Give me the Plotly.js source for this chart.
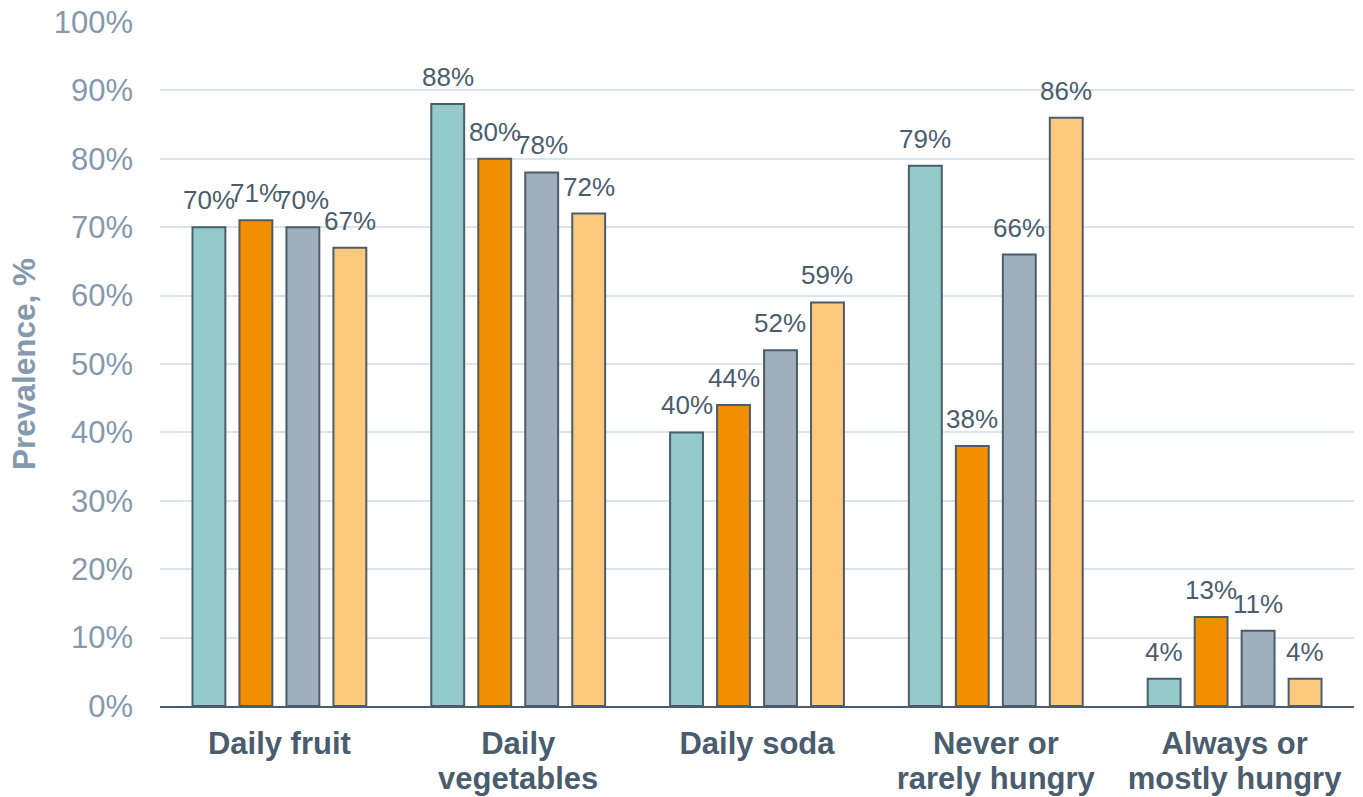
<!DOCTYPE html>
<html>
<head>
<meta charset="utf-8">
<script src="https://cdn.plot.ly/plotly-3.0.1.min.js"></script>
<style>
  html, body { margin: 0; padding: 0; background: #ffffff; }
  #chart { width: 1363px; height: 797px; }
</style>
</head>
<body>
<div id="chart"></div>
<script>
// Categories shown along the x axis (line breaks marked with <br>)
const categories = [
  'Daily fruit',
  'Daily<br>vegetables',
  'Daily soda',
  'Never or<br>rarely hungry',
  'Always or<br>mostly hungry'
];

// Prevalence (%) for each of the four groups
const groupA = [70, 88, 40, 79, 4];
const groupB = [71, 80, 44, 38, 13];
const groupC = [70, 78, 52, 66, 11];
const groupD = [67, 72, 59, 86, 4];

const seriesValues = [groupA, groupB, groupC, groupD];
const seriesNames = ['Group A', 'Group B', 'Group C', 'Group D'];
const seriesColors = ['#95CACA', '#F28F00', '#A1AEBB', '#FCC97C'];

const yTickValues = [0, 10, 20, 30, 40, 50, 60, 70, 80, 90, 100];
const yTickLabels = yTickValues.map(v => v + '%');

// Category labels split into their first and second lines
const firstLines = categories.map(c => c.split('<br>')[0]);
const secondLines = categories.map(c => c.split('<br>')[1] || '');
const catIndex = categories.map((c, i) => i);

const W = 1363, H = 797;
const margin = { l: 160, r: 9, t: 22, b: 91, pad: 0 };
const bargap = 0.213;
const outline = '#4A5D6E';
const labelColor = '#4A5D6E';
const axisTextColor = '#8599AE';
const fontFamily = '"Liberation Sans", Arial, Helvetica, sans-serif';
const catFont = { family: fontFamily, size: 31, color: labelColor, weight: 'bold' };

const traces = seriesValues.map((vals, i) => ({
  type: 'bar',
  name: seriesNames[i],
  x: catIndex,
  y: vals,
  marker: { color: seriesColors[i], line: { color: outline, width: 2 } },
  hoverinfo: 'y'
}));

// Value labels above each bar, offset to the bar's slot within its group
const plotW = W - margin.l - margin.r;
const slot = plotW / categories.length * (1 - bargap) / seriesValues.length;
const annotations = [];
seriesValues.forEach((vals, i) => {
  vals.forEach((v, j) => {
    annotations.push({
      x: catIndex[j], y: v, xref: 'x', yref: 'y',
      xshift: (i - (seriesValues.length - 1) / 2) * slot,
      yshift: 10,
      yanchor: 'bottom', xanchor: 'center',
      text: v + '%', showarrow: false,
      font: { family: fontFamily, size: 26, color: labelColor }
    });
  });
});

const xRange = [-0.5, categories.length - 0.5];

const layout = {
  width: W, height: H,
  margin: margin,
  paper_bgcolor: '#ffffff',
  plot_bgcolor: '#ffffff',
  showlegend: false,
  barmode: 'group',
  bargap: bargap,
  bargroupgap: 0.30,
  font: { family: fontFamily },
  xaxis: {
    range: xRange,
    tickvals: catIndex,
    ticktext: firstLines,
    showline: true, linecolor: outline, linewidth: 2,
    showgrid: false, zeroline: false,
    ticks: '',
    ticklabelstandoff: 9,
    tickfont: catFont,
    automargin: false
  },
  // second line of the category labels
  xaxis2: {
    overlaying: 'x',
    anchor: 'y',
    side: 'bottom',
    range: xRange,
    tickvals: catIndex,
    ticktext: secondLines,
    showline: false, showgrid: false, zeroline: false,
    ticks: '',
    ticklabelstandoff: 51,
    tickfont: catFont,
    automargin: false
  },
  yaxis: {
    range: [0, 100],
    tickvals: yTickValues,
    ticktext: yTickLabels,
    showgrid: true, gridcolor: '#DCE3EA', gridwidth: 2,
    zeroline: false, showline: false,
    ticks: '',
    ticklabelstandoff: 26,
    tickfont: { family: fontFamily, size: 31, color: axisTextColor },
    automargin: false,
    title: {
      text: 'Prevalence, %',
      font: { family: fontFamily, size: 31.5, color: axisTextColor, weight: 'bold' },
      standoff: 8
    }
  },
  annotations: annotations
};

// an empty trace keeps the second x axis drawn
traces.push({ type: 'scatter', x: [], y: [], xaxis: 'x2', yaxis: 'y', hoverinfo: 'skip', showlegend: false });

Plotly.newPlot('chart', traces, layout, { displayModeBar: false, staticPlot: true });
</script>
</body>
</html>
